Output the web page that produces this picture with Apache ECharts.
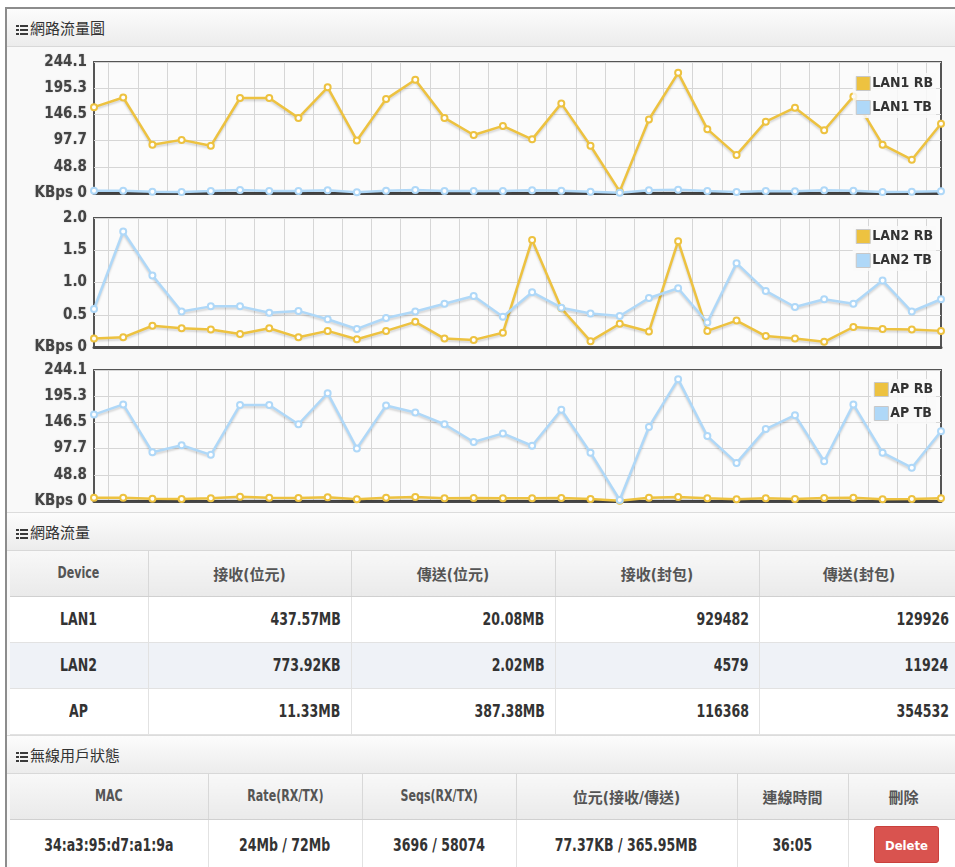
<!DOCTYPE html>
<html>
<head>
<meta charset="utf-8">
<title>網路流量圖</title>
<script src="https://cdn.jsdelivr.net/npm/echarts@6/dist/echarts.min.js"></script>
<style>
html, body { margin: 0; padding: 0; background: #fff; overflow: hidden; }
body {
  width: 955px; height: 867px; position: relative;
  font-family: 'Liberation Sans Narrow', 'DejaVu Sans Condensed', 'Noto Sans CJK TC', sans-serif;
}
.panel {
  position: absolute; left: 5px; top: 7px; width: 960px;
  border-left: 2px solid #8c8c8c; border-top: 2px solid #8c8c8c;
  background: #f9f9f9;
}
.heading {
  height: 37px; line-height: 37px; padding-left: 9px;
  font-family: 'Noto Sans CJK TC', sans-serif; font-size: 15px; color: #333;
  background: linear-gradient(#fcfcfc, #ececec);
  border-bottom: 1px solid #d8d8d8;
}
.heading.sub { border-top: 1px solid #dcdcdc; }
/* list icon: three bars with a small bullet gap */
.heading .icon {
  display: inline-block; width: 12px; height: 10px; margin-right: 2px; vertical-align: -1px;
  background:
    linear-gradient(to right, transparent 0 3px, #f4f4f4 3px 4px, transparent 4px),
    repeating-linear-gradient(to bottom, #3a3a3a 0 2.4px, transparent 2.4px 3.8px);
}
#trafficChart { width: 948px; height: 465px; }
table { border-collapse: collapse; table-layout: fixed; margin-left: 3px; background: #fff; }
th {
  padding: 0; background: linear-gradient(#f8f8f8, #eaeaea);
  color: #555; font-size: 15px; font-weight: bold;
  border-right: 1px solid #d8d8d8; border-bottom: 1px solid #d0d0d0;
}
td {
  padding: 0 10px; font-size: 17px; font-weight: bold; color: #333; text-align: right;
  border-right: 1px solid #e2e2e2; border-bottom: 1px solid #e2e2e2;
}
td.c { text-align: center; }
tr.alt td { background: #eff2f7; }
/* squeeze latin text to look like the narrow bold face of the original */
.sq { display: inline-block; transform: scaleX(0.82); transform-origin: right center; white-space: nowrap; }
.c .sq, th .sq { transform-origin: center center; }
.btn-del {
  display: inline-block; width: 65px; height: 37px; line-height: 37px;
  background: #d9534f; color: #fff; border-radius: 3px; font-size: 13px;
  border: 1px solid #c9403c; box-sizing: border-box; margin-left: 6px;
}
</style>
</head>
<body>
<div class="panel">
  <div class="heading"><span class="icon"></span>網路流量圖</div>
  <div id="trafficChart"></div>

  <div class="heading sub"><span class="icon"></span>網路流量</div>
  <table>
    <colgroup><col style="width:138px"><col style="width:203px"><col style="width:204px"><col style="width:204px"><col style="width:200px"></colgroup>
    <tr style="height:45px"><th><span class="sq">Device</span></th><th>接收(位元)</th><th>傳送(位元)</th><th>接收(封包)</th><th>傳送(封包)</th></tr>
    <tr style="height:46px"><td class="c"><span class="sq">LAN1</span></td><td><span class="sq">437.57MB</span></td><td><span class="sq">20.08MB</span></td><td><span class="sq">929482</span></td><td><span class="sq">129926</span></td></tr>
    <tr style="height:46px" class="alt"><td class="c"><span class="sq">LAN2</span></td><td><span class="sq">773.92KB</span></td><td><span class="sq">2.02MB</span></td><td><span class="sq">4579</span></td><td><span class="sq">11924</span></td></tr>
    <tr style="height:46px"><td class="c"><span class="sq">AP</span></td><td><span class="sq">11.33MB</span></td><td><span class="sq">387.38MB</span></td><td><span class="sq">116368</span></td><td><span class="sq">354532</span></td></tr>
  </table>

  <div class="heading sub"><span class="icon"></span>無線用戶狀態</div>
  <table>
    <colgroup><col style="width:198px"><col style="width:154px"><col style="width:154px"><col style="width:221px"><col style="width:111px"><col style="width:111px"></colgroup>
    <tr style="height:46px"><th><span class="sq">MAC</span></th><th><span class="sq">Rate(RX/TX)</span></th><th><span class="sq">Seqs(RX/TX)</span></th><th>位元(接收/傳送)</th><th>連線時間</th><th>刪除</th></tr>
    <tr style="height:50px"><td class="c"><span class="sq">34:a3:95:d7:a1:9a</span></td><td class="c"><span class="sq">24Mb / 72Mb</span></td><td class="c"><span class="sq">3696 / 58074</span></td><td class="c"><span class="sq">77.37KB / 365.95MB</span></td><td class="c"><span class="sq">36:05</span></td><td class="c"><span class="btn-del">Delete</span></td></tr>
  </table>
</div>

<script>
// 30 samples per series (KBps)
const categories = ['1','2','3','4','5','6','7','8','9','10','11','12','13','14','15',
  '16','17','18','19','20','21','22','23','24','25','26','27','28','29','30'];

const lan1Rb = [160, 178, 90, 99, 88, 177, 177, 140, 197, 98, 175, 211, 140, 108, 125,
  100, 167, 88, 3, 137, 224, 119, 71, 133, 159, 117, 180, 90, 62, 129];
const lan1Tb = [4.3, 4.3, 2.4, 1.9, 3.7, 5.6, 3.7, 3.7, 5, 1.3, 4.3, 5.6, 3.7, 3.7, 3.7,
  5, 4.3, 2.4, 0.6, 5, 6.2, 3.7, 1.9, 3.7, 3.2, 5, 4.3, 1.9, 2.4, 3.2];

const lan2Rb = [0.13, 0.15, 0.33, 0.29, 0.27, 0.2, 0.29, 0.15, 0.25, 0.12, 0.25, 0.39, 0.13, 0.11, 0.22,
  1.66, 0.6, 0.09, 0.36, 0.24, 1.64, 0.25, 0.41, 0.17, 0.13, 0.08, 0.31, 0.28, 0.27, 0.25];
const lan2Tb = [0.59, 1.79, 1.11, 0.55, 0.63, 0.63, 0.53, 0.56, 0.43, 0.28, 0.45, 0.55, 0.67, 0.79, 0.47,
  0.85, 0.61, 0.52, 0.48, 0.76, 0.91, 0.38, 1.3, 0.87, 0.62, 0.74, 0.67, 1.03, 0.55, 0.74];

const apRb = [6.2, 6.2, 4.3, 3.7, 5, 8, 6.2, 5.6, 6.9, 3.2, 6.2, 7.5, 5, 5.6, 5,
  5, 5.6, 3.7, 0.6, 6.2, 7.5, 5, 3.2, 5, 3.7, 5.6, 6.2, 3.2, 3.7, 5];
const apTb = [161, 180, 91, 104, 86, 179, 179, 143, 201, 98, 178, 165, 143, 110, 126,
  103, 170, 90, 2, 138, 227, 121, 71, 134, 160, 74, 180, 90, 62, 130];

const bigMax = 244.13;   // labels 48.8 / 97.7 / 146.5 / 195.3 / 244.1
const smallMax = 2.0;

const RB_COLOR = '#edc240';
const TB_COLOR = '#afd8f8';
const FONT = "'Liberation Sans Narrow', 'DejaVu Sans Condensed', sans-serif";

var myChart = echarts.init(document.getElementById('trafficChart'));

// grid boxes (pixels inside the chart div)
const panels = [
  { top: 15, height: 131, max: bigMax, names: ['LAN1 RB', 'LAN1 TB'], rb: lan1Rb, tb: lan1Tb, legendTop: 26 },
  { top: 171, height: 129, max: smallMax, names: ['LAN2 RB', 'LAN2 TB'], rb: lan2Rb, tb: lan2Tb, legendTop: 179 },
  { top: 323, height: 131, max: bigMax, names: ['AP RB', 'AP TB'], rb: apRb, tb: apTb, legendTop: 332 }
];

const grid = [], xAxis = [], yAxis = [], legend = [], series = [];

panels.forEach(function (p, i) {
  grid.push({
    left: 87, width: 847, top: p.top, height: p.height,
    show: true, backgroundColor: '#fbfbfb', borderColor: '#555', borderWidth: 2,
    containLabel: false, outerBoundsMode: 'none'
  });
  // data axis
  xAxis.push({
    type: 'category', gridIndex: i, data: categories, boundaryGap: false,
    axisLine: { show: true, lineStyle: { color: '#4a4a4a', width: 3 } },
    axisTick: { show: false }, axisLabel: { show: false }, splitLine: { show: false }
  });
  // helper axis: vertical grid lines half way between samples
  xAxis.push({
    type: 'value', gridIndex: i, min: 0, max: categories.length - 1, interval: 1,
    axisLine: { show: false }, axisTick: { show: false }, axisLabel: { show: false },
    splitLine: { show: false },
    minorTick: { show: false, splitNumber: 2 },
    minorSplitLine: { show: true, lineStyle: { color: '#d6d6d6', width: 1 } }
  });
  yAxis.push({
    type: 'value', gridIndex: i, min: 0, max: p.max, interval: p.max / (p.max > 10 ? 5 : 4),
    axisLine: { show: false }, axisTick: { show: false },
    splitLine: { show: true, lineStyle: { color: '#d6d6d6', width: 1 } },
    axisLabel: {
      margin: 7, color: '#444', fontSize: 15, fontWeight: 'bold', fontFamily: FONT,
      padding: [8, 0, 0, 0],
      textShadowColor: 'rgba(0,0,0,0.25)', textShadowBlur: 1.5,
      formatter: function (v) { return v === 0 ? 'KBps 0' : v.toFixed(1) }
    }
  });
  legend.push({
    data: [
      { name: p.names[0], itemStyle: { color: RB_COLOR, borderColor: '#c8c8c8', borderWidth: 1 } },
      { name: p.names[1], itemStyle: { color: TB_COLOR, borderColor: '#c8c8c8', borderWidth: 1 } }
    ],
    orient: 'vertical', right: 19, top: p.legendTop,
    icon: 'rect', itemWidth: 14, itemHeight: 14, itemGap: 9, padding: 3,
    backgroundColor: 'rgba(249,249,249,0.85)',
    selectedMode: false,
    textStyle: { color: '#333', fontSize: 14, fontWeight: 'bold', fontFamily: FONT, padding: [0, 0, 0, -3] }
  });
  [[p.names[0], p.rb, RB_COLOR], [p.names[1], p.tb, TB_COLOR]].forEach(function (s) {
    series.push({
      name: s[0], type: 'line', xAxisIndex: i * 2, yAxisIndex: i, data: s[1],
      symbol: 'circle', symbolSize: 6, showSymbol: true,
      itemStyle: { color: '#fff', borderColor: s[2], borderWidth: 2 },
      lineStyle: { color: s[2], width: 2.5, shadowColor: 'rgba(0,0,0,0.15)', shadowBlur: 2, shadowOffsetY: 2 },
      emphasis: { disabled: true }
    });
  });
});

myChart.setOption({
  animation: false,
  backgroundColor: '#f9f9f9',
  tooltip: { show: false },
  grid: grid,
  xAxis: xAxis,
  yAxis: yAxis,
  legend: legend,
  series: series
});
</script>
</body>
</html>
